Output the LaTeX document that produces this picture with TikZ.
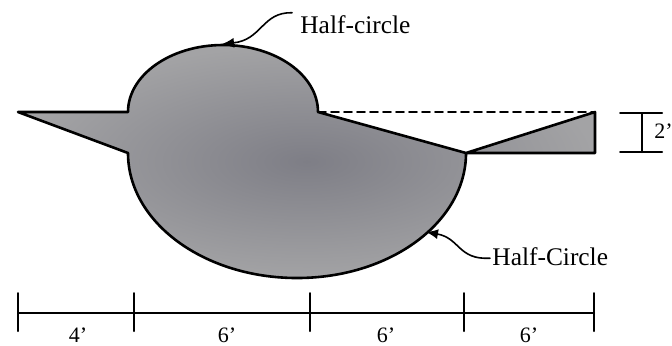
\documentclass[tikz,border=0pt]{standalone}
\usepackage{fontspec}
\setmainfont{Liberation Serif}
\usetikzlibrary{arrows.meta}
\definecolor{shapedark}{HTML}{7E7E86}
\definecolor{shapelight}{HTML}{A3A3A5}
\tikzset{
  every picture/.style={line join=round, line cap=round, >={Latex[length=6pt,width=5pt]}},
  outline/.style={line width=1.3pt},
  dimline/.style={line width=1pt},
  leader/.style={line width=0.8pt,->},
  callout/.style={font=\fontsize{12.7}{15}\selectfont, inner sep=1pt},
  dimlabel/.style={font=\fontsize{11}{13}\selectfont, inner sep=0pt, anchor=base},
}

\begin{document}
\begin{tikzpicture}[x=0.5pt,y=-0.5pt]
\useasboundingbox (0,0) rectangle (672,345);
% body: triangles and the two half-circles
\shade[inner color=shapedark,outer color=shapelight] (18,112)--(128,112)
  arc[start angle=180,end angle=360,x radius=95,y radius=67]
  --(466,153)--(595,112)--(595,153)--(466,153)
  arc[start angle=0,end angle=180,x radius=169,y radius=125]--cycle;
\draw[outline] (18,112)--(128,112)
  arc[start angle=180,end angle=360,x radius=95,y radius=67]
  --(466,153)--(595,112)--(595,153)--(466,153)
  arc[start angle=0,end angle=180,x radius=169,y radius=125]--cycle;
\draw[line width=0.8pt,dash pattern=on 4pt off 2.5pt] (318,112)--(595,112);
% callouts
\node[callout,anchor=base west] (hcTop) at (298,33) {Half-circle};
\coordinate (hcTopTip) at (222,44);
\draw[leader] ([xshift=-3pt]hcTop.north west) .. controls (262,12) and (262,40) .. (hcTopTip);
\node[callout,anchor=base west] (hcBot) at (490,265) {Half-Circle};
\coordinate (hcBotTip) at (426,232);
\draw[leader] ([yshift=-1pt]hcBot.west) .. controls (458,260) and (460,238) .. (hcBotTip);
% bottom dimensions
\draw[dimline] (18,313)--(594,313);
\foreach \x in {18,134,310,464,594}
  \draw[dimline] (\x,293)--(\x,331);
\foreach \x/\t [count=\i] in {78/4',227/6',386/6',529/6'}
  \node[dimlabel] (dim\i) at (\x,342) {\t};
% height dimension
\draw[dimline] (620,113)--(662,113);
\draw[dimline] (620,152)--(662,152);
\draw[dimline] (642,113)--(642,152);
\node[dimlabel,anchor=base west] (dimH) at (654,138) {2'};
\end{tikzpicture}
\end{document}
